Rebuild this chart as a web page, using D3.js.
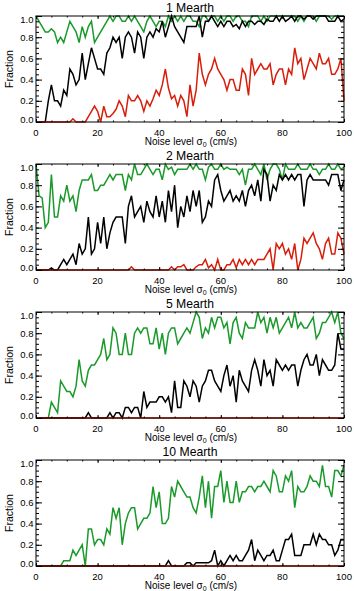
<!DOCTYPE html>
<html><head><meta charset="utf-8">
<script src="https://cdn.jsdelivr.net/npm/d3@7"></script>
<style>body{margin:0;background:#fff}svg{display:block}text{font-family:"Liberation Sans",Arial,sans-serif;fill:#000}</style>
</head><body>
<script>
const titles = ["1 Mearth","2 Mearth","5 Mearth","10 Mearth"];
const xTicks = [0,20,40,60,80,100];
const yTicks = [0,0.2,0.4,0.6,0.8,1.0];
const noise = d3.range(0,101);

const p1Green=[1.0,0.95,0.9,0.85,0.85,0.88,0.85,0.75,0.8,0.75,0.85,0.95,0.9,0.85,0.75,0.9,0.8,0.9,0.95,0.75,0.8,0.85,0.9,0.95,1.0,0.95,1.0,1.0,0.95,0.95,1.0,0.95,1.0,0.95,0.9,0.85,0.95,1.0,0.95,0.9,0.95,0.95,0.9,1.0,0.95,1.0,0.95,1.0,0.95,1.0,1.0,0.95,0.95,0.9,1.0,1.0,0.95,1.0,1.0,0.95,1.0,0.95,1.0,1.0,0.95,1.0,1.0,0.95,0.95,0.9,1.0,1.0,1.0,0.95,1.0,0.95,1.0,1.0,1.0,1.0,1.0,1.0,1.0,1.0,1.0,0.95,1.0,0.95,1.0,1.0,1.0,0.95,1.0,1.0,1.0,1.0,0.97,1.0,1.0,1.0,1.0];
const p1Black=[0,0,0,0,0.2,0.35,0.2,0.2,0.15,0.3,0.25,0.5,0.45,0.35,0.4,0.65,0.4,0.55,0.7,0.6,0.5,0.5,0.45,0.65,0.7,0.8,0.75,0.8,0.6,0.8,0.85,0.8,0.65,0.85,0.8,0.6,0.8,0.85,0.8,0.88,0.85,0.95,0.8,0.9,1.0,0.9,0.85,0.8,0.75,0.9,0.9,0.9,0.9,1.0,0.8,0.95,0.95,1.0,0.95,0.9,0.95,0.9,0.95,0.95,0.9,0.92,0.88,0.95,0.9,0.95,0.95,0.92,0.95,0.95,0.92,0.97,0.95,0.95,1.0,0.95,1.0,0.95,0.97,1.0,0.95,1.0,1.0,0.97,1.0,1.0,0.97,1.0,1.0,1.0,1.0,0.95,0.95,0.95,1.0,0.95,0.97];
const p1Red=[0,0,0,0,0,0,0,0,0,0,0,0,0.03,0,0,0,0,0.05,0.1,0.15,0.1,0.0,0.15,0.05,0.05,0.08,0.12,0.2,0.15,0.05,0.25,0.2,0.2,0.25,0.2,0.1,0.2,0.15,0.22,0.3,0.25,0.35,0.5,0.32,0.22,0.25,0.15,0.25,0.2,0.05,0.35,0.15,0.3,0.65,0.45,0.35,0.45,0.5,0.6,0.5,0.45,0.4,0.3,0.4,0.4,0.3,0.3,0.5,0.45,0.25,0.6,0.45,0.5,0.55,0.5,0.5,0.55,0.35,0.45,0.5,0.5,0.35,0.5,0.45,0.7,0.55,0.6,0.4,0.5,0.6,0.55,0.5,0.65,0.55,0.55,0.6,0.45,0.45,0.5,0.6,0.2];

const p2Green=[1.0,0.7,0.68,0.4,0.45,0.9,0.5,0.5,0.7,0.65,0.8,0.65,0.7,0.55,0.75,0.85,0.85,0.85,0.9,0.75,0.75,0.8,0.8,0.85,0.9,0.85,0.9,0.9,0.9,0.75,0.9,0.85,1.0,0.9,0.9,0.95,1.0,0.95,0.9,0.95,0.95,0.85,1.0,0.95,0.97,0.9,0.95,0.95,0.95,0.95,1.0,0.95,1.0,0.95,0.95,0.85,0.97,1.0,0.95,0.95,1.0,0.95,0.97,0.95,0.95,0.95,0.9,0.95,0.8,0.95,0.95,1.0,0.95,0.9,1.0,0.85,0.95,1.0,1.0,0.95,0.85,1.0,0.95,0.95,0.95,1.0,0.95,0.95,0.95,1.0,0.95,0.95,0.9,0.95,0.95,1.0,0.95,0.95,1.0,0.95,0.97];
const p2Black=[0,0,0,0,0,0.02,0,0,0.05,0.1,0.05,0.1,0.15,0.05,0.25,0.15,0.2,0.5,0.15,0.2,0.45,0.25,0.5,0.2,0.35,0.45,0.5,0.5,0.5,0.25,0.6,0.7,0.5,0.55,0.6,0.45,0.65,0.55,0.5,0.7,0.5,0.65,0.45,0.75,0.55,0.8,0.4,0.6,0.5,0.7,0.55,0.75,0.6,0.75,0.45,0.5,0.65,0.6,0.85,0.9,0.75,0.65,0.7,0.75,0.65,0.7,0.65,0.75,0.6,0.75,0.8,0.7,0.85,0.65,0.95,0.9,0.65,0.8,0.75,0.9,0.85,0.9,0.85,0.9,0.85,0.9,0.9,0.6,0.85,0.9,0.85,0.85,0.85,0.85,0.85,0.8,0.9,0.9,0.9,0.75,0.85];
const p2Red=[0,0,0,0,0,0,0,0,0,0,0,0,0,0,0,0,0,0,0,0,0,0,0,0,0,0,0,0,0,0,0,0.03,0,0,0,0,0,0,0,0,0,0,0,0,0.03,0,0.03,0.03,0.05,0,0,0,0.03,0.05,0.05,0.1,0.02,0.05,0,0.1,0,0,0.05,0.05,0.1,0.02,0.1,0.05,0.1,0.05,0.1,0.05,0.1,0.1,0.1,0.15,0.2,0.0,0.25,0.2,0.25,0.15,0.2,0.1,0.25,0.0,0.1,0.3,0.25,0.3,0.35,0.25,0.2,0.1,0.25,0.3,0.15,0.15,0.35,0.3,0.15];

const p3Green=[0,0,0,0,0,0.15,0.1,0.05,0.35,0.3,0.25,0.25,0.2,0.3,0.55,0.35,0.3,0.45,0.5,0.5,0.55,0.6,0.75,0.55,0.6,0.85,0.8,0.6,0.6,0.8,0.6,0.6,0.8,0.85,0.8,0.85,0.85,0.7,0.7,0.85,0.65,0.8,0.6,0.8,0.85,0.85,0.7,0.75,0.8,0.85,0.8,0.9,1.0,0.95,0.75,0.85,0.8,0.95,0.85,0.95,0.95,0.85,0.9,0.7,0.9,0.95,0.8,0.75,0.9,0.85,0.85,0.85,1.0,0.9,0.95,0.8,0.95,0.85,0.95,0.8,0.85,0.9,0.95,0.85,1.0,0.85,0.9,0.85,0.85,0.9,0.95,0.75,0.8,0.9,0.9,0.95,1.0,0.9,1.0,0.8,0.75];
const p3Black=[0,0,0,0,0,0,0,0,0,0,0,0,0,0,0,0,0,0.05,0,0,0,0,0,0,0.05,0,0.05,0.05,0,0.1,0.1,0.05,0.1,0.1,0,0.25,0.1,0.15,0.15,0.15,0.2,0.2,0.15,0.2,0.05,0.35,0.1,0.1,0.35,0.3,0.2,0.35,0.3,0.15,0.3,0.35,0.45,0.45,0.35,0.3,0.25,0.4,0.5,0.3,0.4,0.15,0.45,0.35,0.3,0.25,0.45,0.55,0.45,0.3,0.55,0.4,0.45,0.3,0.55,0.5,0.45,0.5,0.45,0.5,0.5,0.3,0.45,0.55,0.6,0.5,0.5,0.6,0.4,0.55,0.5,0.45,0.45,0.5,0.8,0.65,0.65];
const p3Red=[0,0,0,0,0,0,0,0,0,0,0,0,0,0,0,0,0,0,0,0,0,0,0,0,0,0,0,0,0,0,0,0,0,0,0,0,0,0,0,0,0,0,0,0,0,0,0,0,0,0,0,0,0,0,0,0,0,0,0,0,0,0,0,0,0,0,0,0,0,0,0,0,0,0,0,0,0,0,0,0,0,0,0,0,0,0,0,0,0,0,0,0,0,0,0,0,0,0,0,0,0];

const p4Green=[0,0,0,0,0,0,0,0,0,0.05,0.05,0.05,0.15,0.1,0.15,0.2,0.0,0.35,0.35,0.2,0.25,0.25,0.2,0.35,0.3,0.55,0.45,0.55,0.2,0.4,0.5,0.55,0.55,0.35,0.4,0.45,0.45,0.5,0.75,0.55,0.7,0.4,0.4,0.45,0.75,0.65,0.8,0.75,0.7,0.65,0.65,0.55,0.5,0.65,0.85,0.55,0.8,0.45,0.75,0.75,0.9,0.6,0.8,0.6,0.6,0.8,0.6,0.7,0.7,0.75,0.75,0.7,0.75,0.75,0.8,0.75,0.7,0.9,0.85,0.7,0.7,0.85,0.8,0.9,0.55,0.75,0.7,0.7,0.75,0.85,0.8,0.8,0.75,0.95,0.75,0.75,0.65,0.9,0.9,0.85,0.95];
const p4Black=[0,0,0,0,0,0,0,0,0,0,0,0,0,0,0,0,0,0,0,0,0,0,0,0,0,0,0,0,0,0,0,0,0,0,0,0,0,0,0,0,0,0,0,0.05,0,0,0,0,0,0.03,0.03,0,0.03,0.03,0.03,0.03,0.03,0.05,0.15,0,0.05,0,0.05,0.1,0.05,0.1,0.05,0.05,0.1,0.15,0.25,0.05,0.15,0.1,0.05,0.1,0.1,0.15,0.05,0.05,0.15,0.25,0.25,0.3,0.1,0.1,0.1,0.2,0.2,0.2,0.3,0.2,0.3,0.25,0.25,0.2,0.2,0.1,0.15,0.25,0.25];
const p4Red=[0,0,0,0,0,0,0,0,0,0,0,0,0,0,0,0,0,0,0,0,0,0,0,0,0,0,0,0,0,0,0,0,0,0,0,0,0,0,0,0,0,0,0,0,0,0,0,0,0,0,0,0,0,0,0,0,0,0,0,0,0,0,0,0,0,0,0,0,0,0,0,0,0,0,0,0,0,0,0,0,0,0,0,0,0,0,0,0,0,0,0,0,0,0,0,0,0,0,0,0,0];

const panels = [
  {title:titles[0], green:p1Green, black:p1Black, red:p1Red},
  {title:titles[1], green:p2Green, black:p2Black, red:p2Red},
  {title:titles[2], green:p3Green, black:p3Black, red:p3Red},
  {title:titles[3], green:p4Green, black:p4Black, red:p4Red}
];

const W=354, H=591;
const L=36, R=344, PH=106, tops=[16,164,312,460];
const svg=d3.select("body").append("svg").attr("width",W).attr("height",H);
const x=d3.scaleLinear().domain([0,100]).range([L,R]);
const colors={green:"#1a9a2a",black:"#000",red:"#d81e0a"};

panels.forEach((p,i)=>{
  const top=tops[i], bot=top+PH;
  const y=d3.scaleLinear().domain([0,1]).range([bot,top]);
  const g=svg.append("g");
  ["green","black","red"].forEach(k=>{
    const line=d3.line().x((d,j)=>x(noise[j])).y(d=>y(d));
    g.append("path").datum(p[k]).attr("d",line).attr("fill","none")
      .attr("stroke",colors[k]).attr("stroke-width",1.5).attr("stroke-linejoin","miter");
  });
  const xMinor=d3.range(0,101,5), yMinor=d3.range(0,1.0001,0.05);
  const ax=(axis)=>axis.tickFormat("").tickSizeOuter(0);
  g.append("g").attr("transform",`translate(0,${bot})`).call(ax(d3.axisTop(x).tickValues(xTicks).tickSizeInner(3)));
  g.append("g").attr("transform",`translate(0,${bot})`).call(ax(d3.axisTop(x).tickValues(xMinor).tickSizeInner(1.5)));
  g.append("g").attr("transform",`translate(0,${top})`).call(ax(d3.axisBottom(x).tickValues(xTicks).tickSizeInner(3)));
  g.append("g").attr("transform",`translate(0,${top})`).call(ax(d3.axisBottom(x).tickValues(xMinor).tickSizeInner(1.5)));
  g.append("g").attr("transform",`translate(${L},0)`).call(ax(d3.axisRight(y).tickValues(yTicks).tickSizeInner(6)));
  g.append("g").attr("transform",`translate(${L},0)`).call(ax(d3.axisRight(y).tickValues(yMinor).tickSizeInner(3)));
  g.append("g").attr("transform",`translate(${R},0)`).call(ax(d3.axisLeft(y).tickValues(yTicks).tickSizeInner(6)));
  g.append("g").attr("transform",`translate(${R},0)`).call(ax(d3.axisLeft(y).tickValues(yMinor).tickSizeInner(3)));
  g.selectAll(".domain").remove();
  g.selectAll(".tick line").attr("stroke","#000").attr("stroke-width",1);
  g.append("rect").attr("x",L).attr("y",top).attr("width",R-L).attr("height",PH)
    .attr("fill","none").attr("stroke","#000").attr("stroke-width",1);
  g.selectAll(".xl").data(xTicks).enter().append("text")
    .attr("x",d=>x(d)).attr("y",bot+13.5).attr("text-anchor","middle")
    .attr("font-size","9.5px").text(d=>d);
  g.selectAll(".yl").data(yTicks).enter().append("text")
    .attr("x",33.5).attr("y",d=>y(d)+3.5+(d===0?-2.5:(d===1?3:0))).attr("text-anchor","end")
    .attr("font-size","9.5px").text(d=>d3.format(".1f")(d));
  g.append("text").attr("x",(L+R)/2).attr("y",top-4.3).attr("text-anchor","middle")
    .attr("font-size","12.2px").text(p.title);
  const xt=g.append("text").attr("x",(L+R)/2+1).attr("y",bot+23).attr("text-anchor","middle").attr("font-size","10px");
  xt.append("tspan").text("Noise level σ");
  xt.append("tspan").attr("font-size","7px").attr("dy",1.5).text("0");
  xt.append("tspan").attr("dy",-1.5).text(" (cm/s)");
  g.append("text").attr("transform",`translate(12.5,${(top+bot)/2}) rotate(-90)`)
    .attr("text-anchor","middle").attr("font-size","10.5px").text("Fraction");
});
</script>
</body></html>
